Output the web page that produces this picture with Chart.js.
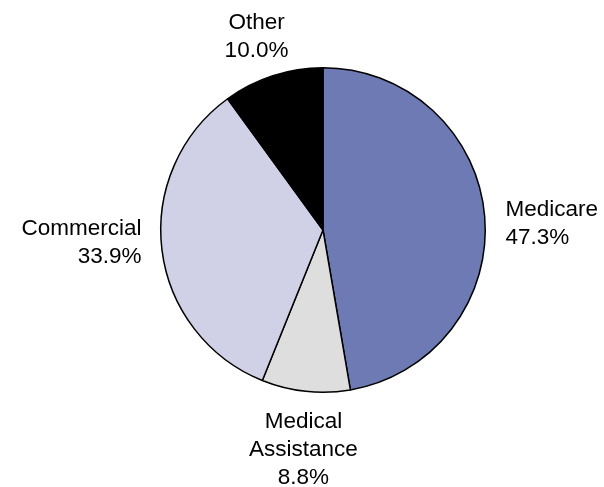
<!DOCTYPE html>
<html>
<head>
<meta charset="utf-8">
<script src="https://cdn.jsdelivr.net/npm/chart.js@4.4.1/dist/chart.umd.min.js"></script>
<style>
  html, body { margin: 0; padding: 0; background: #ffffff; }
  #wrap { width: 604px; height: 487px; }
</style>
</head>
<body>
<div id="wrap"><canvas id="pie" width="604" height="487"></canvas></div>
<script>
// Payer mix, percent of total
const categories = ['Medicare', ['Medical', 'Assistance'], 'Commercial', 'Other'];
const shares = [47.3, 8.8, 33.9, 10.0];
const sliceColors = ['#6D7AB4', '#DEDEDE', '#D0D1E7', '#000000'];

const FONT = '22.5px "Liberation Sans", Arial, sans-serif';
const LINE_H = 28;
const CAP_H = 16;
const GAP = 21;

// Draws each category name and its share outside the slice, like outside-end labels.
const outsideLabels = {
  id: 'outsideLabels',
  afterDatasetsDraw(chart) {
    const ctx = chart.ctx;
    const meta = chart.getDatasetMeta(0);
    const values = chart.data.datasets[0].data;
    ctx.save();
    ctx.font = FONT;
    ctx.fillStyle = '#000000';
    ctx.textBaseline = 'alphabetic';
    meta.data.forEach((arc, i) => {
      const p = arc.getProps(['x', 'y', 'startAngle', 'endAngle', 'outerRadius'], true);
      const mid = (p.startAngle + p.endAngle) / 2;
      const dx = Math.cos(mid), dy = Math.sin(mid);
      const name = chart.data.labels[i];
      const lines = (Array.isArray(name) ? name.slice() : [name]);
      lines.push(values[i].toFixed(1) + '%');
      const w = Math.max(...lines.map(t => ctx.measureText(t).width));
      const h = CAP_H + (lines.length - 1) * LINE_H;
      const ax = p.x + dx * (p.outerRadius + GAP);
      const ay = p.y + dy * (p.outerRadius + GAP);
      // near-vertical labels stay centred on the anchor
      let cx = Math.abs(dx) > 0.2 ? ax + dx * w / 2 : ax;
      let cy = ay + dy * h / 2;
      let align = 'center';
      if (Math.abs(dx) > 0.9) {
        // side labels sit closer to the horizontal midline
        cy = p.y + (ay - p.y) * 0.5;
        align = dx > 0 ? 'left' : 'right';
      }
      ctx.textAlign = align;
      const tx = align === 'left' ? cx - w / 2 : align === 'right' ? cx + w / 2 : cx;
      let by = cy - h / 2 + CAP_H;
      lines.forEach(t => { ctx.fillText(t, tx, by); by += LINE_H; });
    });
    ctx.restore();
  }
};

new Chart(document.getElementById('pie'), {
  type: 'pie',
  data: {
    labels: categories,
    datasets: [{
      data: shares,
      backgroundColor: sliceColors,
      borderColor: '#000000',
      borderWidth: 1.5,
      hoverOffset: 0
    }]
  },
  options: {
    responsive: false,
    animation: false,
    events: [],
    layout: { padding: { left: 160, right: 118, top: 67, bottom: 94 } },
    plugins: {
      legend: { display: false },
      tooltip: { enabled: false }
    }
  },
  plugins: [outsideLabels]
});
</script>
</body>
</html>
